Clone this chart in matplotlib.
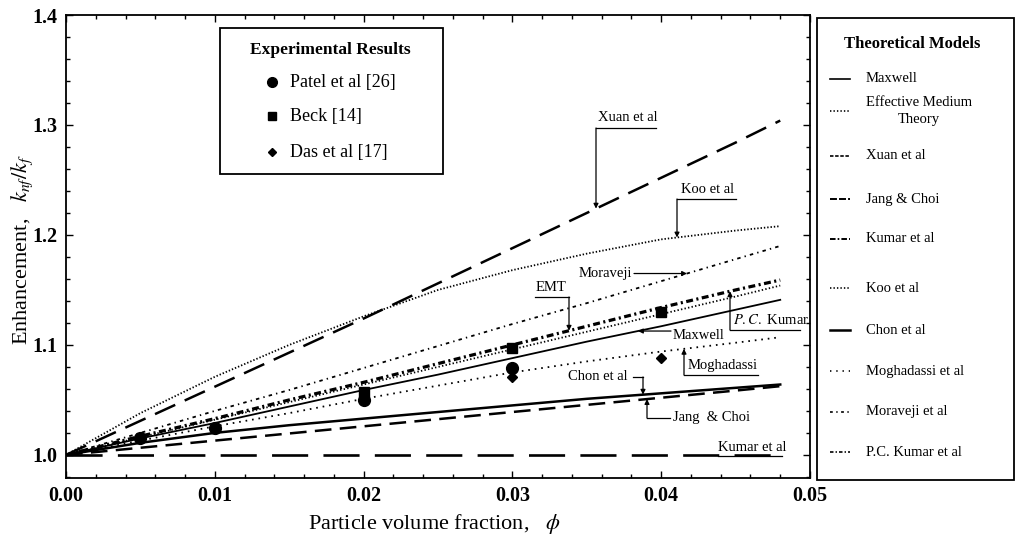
import numpy as np
import matplotlib
matplotlib.use('Agg')
import matplotlib.pyplot as plt
from matplotlib.lines import Line2D
from matplotlib.patches import Rectangle

# ---------------- data ----------------
phi = [0.0, 0.005, 0.01, 0.015, 0.02, 0.025, 0.03, 0.035, 0.04, 0.045, 0.048]
maxwell    = [1.000, 1.015, 1.029, 1.044, 1.059, 1.073, 1.088, 1.103, 1.117, 1.132, 1.141]
emt        = [1.000, 1.016, 1.032, 1.048, 1.064, 1.080, 1.096, 1.112, 1.128, 1.144, 1.154]
xuan       = [1.000, 1.031, 1.062, 1.093, 1.124, 1.156, 1.188, 1.220, 1.252, 1.284, 1.304]
jang_choi  = [1.000, 1.0065, 1.013, 1.0195, 1.026, 1.0325, 1.039, 1.0455, 1.052, 1.0585, 1.0625]
kumar      = [1.000, 1.000, 1.000, 1.000, 1.000, 1.000, 1.000, 1.000, 1.000, 1.000, 1.000]
koo        = [1.000, 1.038, 1.071, 1.100, 1.126, 1.150, 1.168, 1.183, 1.196, 1.204, 1.208]
chon       = [1.000, 1.011, 1.020, 1.027, 1.033, 1.039, 1.045, 1.051, 1.056, 1.061, 1.064]
moghadassi = [1.000, 1.013, 1.026, 1.038, 1.051, 1.063, 1.075, 1.085, 1.094, 1.102, 1.107]
moraveji   = [1.000, 1.020, 1.040, 1.059, 1.079, 1.099, 1.119, 1.138, 1.158, 1.178, 1.190]
pc_kumar   = [1.000, 1.017, 1.033, 1.050, 1.066, 1.083, 1.100, 1.117, 1.134, 1.150, 1.159]

patel_phi = [0.005, 0.01, 0.02, 0.03]
patel_k   = [1.0155, 1.0245, 1.050, 1.079]
beck_phi  = [0.02, 0.03, 0.04]
beck_k    = [1.057, 1.097, 1.130]
das_phi   = [0.03, 0.04]
das_k     = [1.071, 1.088]

x_ticks = [0.0, 0.01, 0.02, 0.03, 0.04, 0.05]
x_tick_labels = ['0.00', '0.01', '0.02', '0.03', '0.04', '0.05']
y_ticks = [1.0, 1.1, 1.2, 1.3, 1.4]
y_tick_labels = ['1.0', '1.1', '1.2', '1.3', '1.4']

exp_labels = ['Patel et al [26]', 'Beck [14]', 'Das et al [17]']
model_labels = ['Maxwell', 'Effective Medium\nTheory', 'Xuan et al', 'Jang & Choi',
                'Kumar et al', 'Koo et al', 'Chon et al', 'Moghadassi et al',
                'Moraveji et al', 'P.C. Kumar et al']

# ---------------- styling ----------------
plt.rcParams['font.family'] = ['Liberation Serif', 'DejaVu Serif']
plt.rcParams['mathtext.fontset'] = 'stix'
plt.rcParams['lines.scale_dashes'] = False
SERIF = ['Liberation Serif', 'DejaVu Serif']

W, H = 1016, 543
fig = plt.figure(figsize=(W / 100, H / 100), dpi=100)
fig.patch.set_facecolor('white')

ax = fig.add_axes([66 / W, (H - 478) / H, (810 - 66) / W, (478 - 15) / H])
ax.set_xlim(0, 0.05)
ax.set_ylim(0.979, 1.4)

models = [
    (maxwell,    dict(ls='-', lw=1.3)),
    (emt,        dict(dashes=(1.0, 1.6), lw=1.3)),
    (xuan,       dict(dashes=(16, 7.5), lw=1.8)),
    (jang_choi,  dict(dashes=(12, 6), lw=1.8)),
    (kumar,      dict(dashes=(26, 11), lw=1.9)),
    (koo,        dict(dashes=(1.0, 1.4), lw=1.3)),
    (chon,       dict(ls='-', lw=1.8)),
    (moghadassi, dict(dashes=(1.2, 3.5), lw=1.3)),
    (moraveji,   dict(dashes=(2.5, 3, 1.0, 3), lw=1.3)),
    (pc_kumar,   dict(dashes=(5, 2.5, 1.5, 2.5), lw=2.3)),
]
for vals, st in models:
    ax.plot(phi, vals, color='black', **st)

ax.plot(patel_phi, patel_k, 'o', color='black', ms=8.5, zorder=5)
ax.plot(beck_phi, beck_k, 's', color='black', ms=7.5, zorder=5)
ax.plot(das_phi, das_k, 'D', color='black', ms=5.5, zorder=5)

ax.set_xticks(x_ticks)
ax.set_xticklabels(x_tick_labels)
ax.set_yticks(y_ticks)
ax.set_yticklabels(y_tick_labels)
ax.set_xticks(np.arange(0, 0.0501, 0.002), minor=True)
ax.set_yticks(np.arange(0.98, 1.4001, 0.02), minor=True)
ax.tick_params(which='both', direction='in', top=True, right=True, width=1.0)
ax.tick_params(which='major', length=5, labelsize=14.5, pad=6)
ax.tick_params(which='minor', length=3)
for lab in ax.get_xticklabels() + ax.get_yticklabels():
    lab.set_fontweight('bold')
    lab.set_family(SERIF)
for s in ax.spines.values():
    s.set_linewidth(1.3)

fig.text(22 / W, 1 - 250 / H, 'Enhancement,   $k_{nf}/k_f$', rotation=90,
         ha='center', va='center', fontsize=16)
fig.text(434 / W, 1 - 524 / H, 'Particle volume fraction,   $\\phi$',
         ha='center', va='center', fontsize=16)

# ---------------- in-plot annotations ----------------
fig.canvas.draw()
inv = ax.transData.inverted()


def P(px, py):
    return inv.transform((px, H - py))


AFS = 10.5
arrow_kw = dict(arrowstyle='-|>', lw=0.9, color='black', mutation_scale=7,
                shrinkA=0, shrinkB=0)


def vleader(px, py, series):
    x, y0 = P(px, py)
    yt = np.interp(x, phi, series)
    ax.annotate('', xy=(x, yt), xytext=(x, y0), arrowprops=arrow_kw)


def uline(px0, px1, py):
    a = P(px0, py)
    b = P(px1, py)
    ax.plot([a[0], b[0]], [a[1], b[1]], color='black', lw=0.9)


def label(txt, px, py, ha='left'):
    x, y = P(px, py)
    ax.text(x, y, txt, ha=ha, va='center', fontsize=AFS)


# Xuan et al
label('Xuan et al', 598, 118)
uline(596, 656, 128)
vleader(596, 128, xuan)
# Koo et al
label('Koo et al', 681, 190)
uline(677, 736, 199)
vleader(677, 199, koo)
# Moraveji
label('Moraveji', 632, 273, ha='right')
xa, ya = P(634, 273)
xb = P(687, 273)[0]
ax.annotate('', xy=(xb, np.interp(xb, phi, moraveji)),
            xytext=(xa, np.interp(xb, phi, moraveji)), arrowprops=arrow_kw)
# EMT
label('EMT', 551, 288, ha='center')
uline(535, 569, 297)
vleader(569, 297, pc_kumar)
# Maxwell
label('Maxwell', 673, 336)
xm = P(638, 336)[0]
ym = np.interp(xm, phi, maxwell)
xs = P(671, 336)[0]
ax.annotate('', xy=(xm, ym), xytext=(xs, ym), arrowprops=arrow_kw)
# P.C. Kumar
label('$P.C.$ Kumar', 733, 320)
uline(730, 800, 330)
vleader(730, 330, pc_kumar)
# Moghadassi
label('Moghadassi', 688, 366)
uline(684, 758, 375)
vleader(684, 375, moghadassi)
# Chon et al
label('Chon et al', 628, 377, ha='right')
uline(633, 643, 377)
vleader(643, 377, chon)
# Jang & Choi
label('Jang  & Choi', 673, 418)
uline(647, 670, 418)
vleader(647, 418, jang_choi)
# Kumar et al
label('Kumar et al', 718, 448)
uline(718, 782, 456)


def fx(px):
    return px / W


def fy(py):
    return 1 - py / H


# ---------------- experimental legend box ----------------
fig.add_artist(Rectangle((fx(220), fy(174)), fx(443) - fx(220), fy(28) - fy(174),
                         transform=fig.transFigure, fill=False, lw=1.3, ec='black'))
fig.text(fx(330), fy(50), 'Experimental Results', ha='center', va='center',
         fontsize=12.5, fontweight='bold')
exp_markers = [('o', 7), ('s', 6), ('D', 4.5)]
exp_rows = [82, 116, 152]
for (m, ms), row, txt in zip(exp_markers, exp_rows, exp_labels):
    fig.add_artist(Line2D([fx(272)], [fy(row)], marker=m, ms=ms, color='black',
                          transform=fig.transFigure))
    fig.text(fx(290), fy(row), txt, ha='left', va='center', fontsize=13)

# ---------------- theoretical models legend box ----------------
fig.add_artist(Rectangle((fx(817), fy(480)), fx(1014) - fx(817), fy(18) - fy(480),
                         transform=fig.transFigure, fill=False, lw=1.3, ec='black'))
fig.text(fx(912), fy(44), 'Theoretical Models', ha='center', va='center',
         fontsize=12, fontweight='bold')
model_rows = [79, 111, 156, 199, 239, 288, 330, 371, 412, 452]
sample_styles = [
    dict(ls='-', lw=1.2),
    dict(dashes=(1.0, 1.5), lw=1.2),
    dict(dashes=(2.5, 1.2), lw=1.2),
    dict(dashes=(5, 1.5), lw=1.4),
    dict(dashes=(4, 1.5, 1.2, 1.5), lw=1.4),
    dict(dashes=(1.0, 1.5), lw=1.2),
    dict(ls='-', lw=1.8),
    dict(dashes=(1.0, 3.5), lw=1.2),
    dict(dashes=(2.0, 2.5, 1.0, 2.5), lw=1.2),
    dict(dashes=(2.5, 1.5, 1.0, 1.5), lw=1.2),
]
for row, st, txt in zip(model_rows, sample_styles, model_labels):
    fig.add_artist(Line2D([fx(830), fx(850)], [fy(row), fy(row)], color='black',
                          transform=fig.transFigure, **st))
    if '\n' in txt:
        fig.text(fx(866), fy(row), txt, ha='left', va='center', fontsize=10.5,
                 multialignment='center', linespacing=1.5)
    else:
        fig.text(fx(866), fy(row), txt, ha='left', va='center', fontsize=10.5)

fig.savefig('out.png', dpi=100, facecolor='white')
